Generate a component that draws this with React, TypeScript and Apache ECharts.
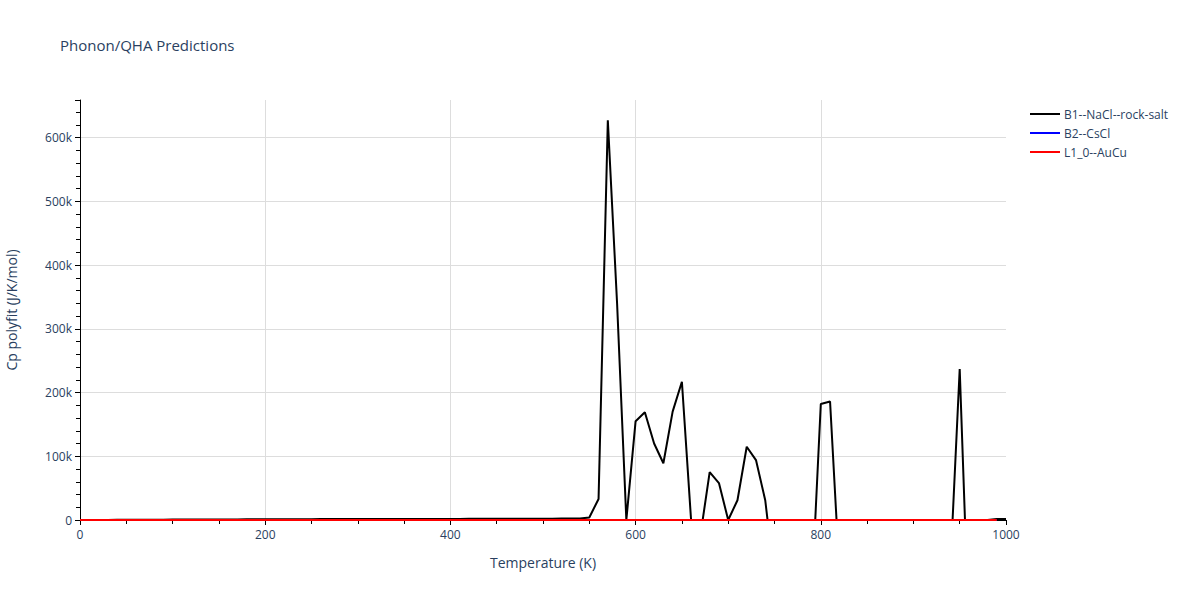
import React, { useEffect, useRef } from "react";
import * as echarts from "echarts";

const temps: number[] = [];
for (let t = 0; t <= 1000; t += 10) temps.push(t);

const tempsShort: number[] = temps.filter((t) => t <= 990);

// B1--NaCl--rock-salt Cp polyfit (J/K/mol), T = 0..1000 step 10
const b1Values: number[] = [
  0, 50, 100, 150, 250, 300, 350, 450, 500, 550,
  600, 650, 700, 750, 800, 850, 900, 950, 1000, 1050,
  1100, 1150, 1200, 1250, 1300, 1350, 1400, 1400, 1450, 1500,
  1500, 1550, 1550, 1600, 1600, 1650, 1650, 1700, 1700, 1700,
  1750, 1750, 1800, 1800, 1850, 1850, 1900, 1900, 1950, 2000,
  2000, 2100, 2200, 2300, 2500, 4000, 33000, 627000, 340000, 0,
  155000, 169000, 120000, 89000, 170000, 217000, -2000, -24000, 75000, 58000,
  0, 31000, 115000, 94000, 31000, -93000, 0, 0, 0, -121000,
  182000, 186000, -80000, 0, 0, 0, 0, 0, 0, 0,
  0, 0, 0, 0, -71000, 237000, -179000, 0, 0, 1500,
  1500,
];

const b2Values: number[] = tempsShort.map(() => 0);
const l1Values: number[] = tempsShort.map(() => 0);

const seriesNames = ["B1--NaCl--rock-salt", "B2--CsCl", "L1_0--AuCu"];
const seriesColors = ["#000000", "#0000ff", "#ff0000"];

const yTickLabels: Record<number, string> = {
  0: "0",
  100000: "100k",
  200000: "200k",
  300000: "300k",
  400000: "400k",
  500000: "500k",
  600000: "600k",
};

const FONT = "'Open Sans', 'Noto Sans', sans-serif";
const TXT = "#2a3f5f";

export default function App() {
  const ref = useRef<HTMLDivElement>(null);
  useEffect(() => {
    if (!ref.current) return;
    const chart = echarts.init(ref.current, undefined, { renderer: "svg" });
    const toPairs = (xs: number[], ys: number[]) => xs.map((x, i) => [x, ys[i]]);
    const datasets = [
      toPairs(temps, b1Values),
      toPairs(tempsShort, b2Values),
      toPairs(tempsShort, l1Values),
    ];
    chart.setOption({
      animation: false,
      backgroundColor: "#ffffff",
      textStyle: { fontFamily: FONT, color: TXT },
      title: {
        text: "Phonon/QHA Predictions",
        left: 55,
        top: 32,
        textStyle: { fontFamily: FONT, fontSize: 15, fontWeight: "normal", color: TXT },
      },
      legend: {
        orient: "vertical",
        left: 1030,
        top: 107,
        padding: 0,
        itemWidth: 30,
        itemHeight: 2,
        itemGap: 5,
        icon: "rect",
        data: seriesNames,
        textStyle: { fontFamily: FONT, fontSize: 12, color: TXT, lineHeight: 14, padding: [0, 0, 0, -1] },
      },
      grid: { left: 80, right: 194, top: 100, bottom: 80, containLabel: false, outerBoundsMode: "none" },
      xAxis: {
        type: "value",
        min: 0,
        max: 1000,
        interval: 200,
        name: "Temperature (K)",
        nameLocation: "middle",
        nameGap: 35,
        nameTextStyle: { fontFamily: FONT, fontSize: 14, color: TXT },
        axisLine: { show: true, onZero: false, lineStyle: { color: "#000", width: 1 } },
        axisTick: { show: true, inside: false, length: 5, lineStyle: { color: "#000" } },
        minorTick: { show: true, splitNumber: 4, length: 4, lineStyle: { color: "#000" } },
        axisLabel: { fontFamily: FONT, fontSize: 12, color: TXT, margin: 8, formatter: (v: number) => String(v) },
        splitLine: { show: true, showMinLine: false, showMaxLine: false, lineStyle: { color: "#dddddd", width: 1 } },
      },
      yAxis: {
        type: "value",
        min: 0,
        max: 659000,
        interval: 100000,
        name: "Cp polyfit (J/K/mol)",
        nameLocation: "middle",
        nameGap: 62,
        nameTextStyle: { fontFamily: FONT, fontSize: 14, color: TXT },
        axisLine: { show: true, onZero: false, lineStyle: { color: "#000", width: 1 } },
        axisTick: { show: true, inside: false, length: 5, lineStyle: { color: "#000" } },
        minorTick: { show: true, splitNumber: 5, length: 4, lineStyle: { color: "#000" } },
        axisLabel: {
          fontFamily: FONT,
          fontSize: 12,
          color: TXT,
          margin: 8,
          formatter: (v: number) => yTickLabels[v] ?? "",
        },
        splitLine: { show: true, showMinLine: false, showMaxLine: false, lineStyle: { color: "#dddddd", width: 1 } },
      },
      series: seriesNames.map((name, i) => ({
        name,
        type: "line",
        data: datasets[i],
        showSymbol: false,
        symbol: "none",
        clip: true,
        lineStyle: { color: seriesColors[i], width: 2 },
        itemStyle: { color: seriesColors[i] },
      })),
    });
    return () => chart.dispose();
  }, []);
  return (
    <div
      ref={ref}
      style={{ position: "fixed", left: 0, top: 0, width: 1200, height: 600, background: "#fff" }}
    />
  );
}
